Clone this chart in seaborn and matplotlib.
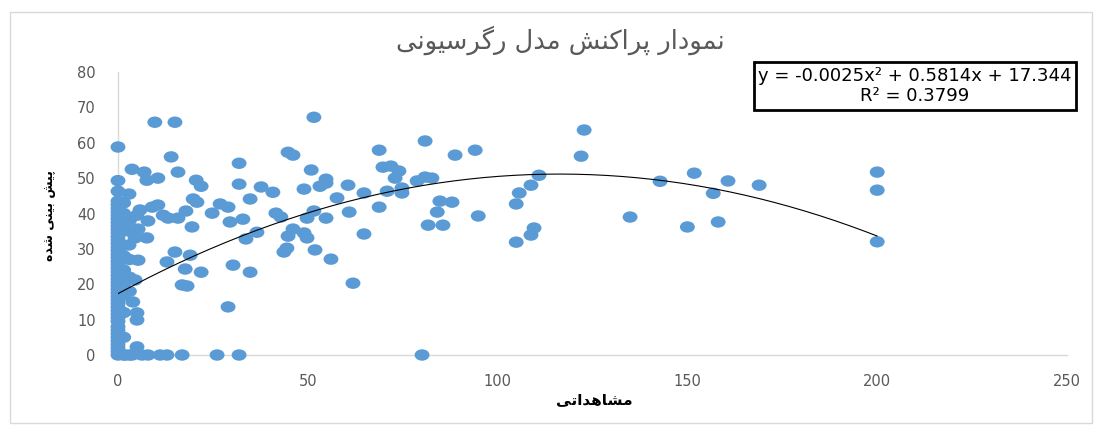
import numpy as np
import pandas as pd
import matplotlib
matplotlib.use("Agg")
import matplotlib.pyplot as plt
from matplotlib.patches import Rectangle
from matplotlib.markers import MarkerStyle
from matplotlib.transforms import Affine2D
import seaborn as sns

sns.set_style("white")
plt.rcParams['font.family'] = ['DejaVu Sans']

# observed values stacked at zero
zero_obs = [0] * 47 + [1.5] * 11 + [3] * 6
zero_pred = [0, 1, 2, 3, 4, 5, 6, 7, 8, 9.5, 10.5, 11.5, 12.5, 13.5, 14.5, 15.5,
             16.5, 17.5, 18.5, 19.5, 20.5, 21.5, 22.5, 23.5, 24.5, 25.5, 26.5, 27.5,
             28.5, 29.5, 30.5, 31.5, 32.5, 33.5, 34.5, 35.5, 36.5, 37.5, 38.5, 39.5,
             40.5, 41.5, 42.5, 43.5, 46.3, 49.3, 58.8,
             0, 5, 12, 17, 20, 24, 28, 31, 36, 40, 43,
             0, 18, 22, 27, 35, 38]

obs = [1.8, 3.7, 6.3, 7.9, 11.1, 12.9, 16.9, 26.1, 31.9, 80.1,
       2.9, 3.7, 6.9, 7.6, 10.5, 9.7, 15.0, 14.0, 15.8, 20.6, 21.9,
       19.8, 20.8, 26.9, 29.0, 5.8, 9.0, 10.5, 17.9, 5.0, 11.9, 13.2, 15.8, 7.9,
       24.8, 19.5, 29.5, 5.3, 7.6, 4.5, 2.9, 15.0, 19.0, 12.9, 5.3, 17.7, 21.9,
       30.3, 4.5, 16.9, 18.2, 3.9, 5.0, 5.0, 29.0, 5.0,
       31.9, 31.9, 37.7, 40.8, 34.8, 32.9, 33.7, 36.6, 34.8,
       44.8, 46.1, 51.6, 50.9, 49.0, 53.2, 54.8, 54.8, 60.6, 64.8, 57.7, 60.9,
       54.8, 51.6, 49.8, 41.6, 42.9, 46.1, 49.0, 44.8, 49.8, 44.5, 43.7, 51.9,
       56.1, 64.8, 61.9,
       68.8, 80.9, 88.8, 94.1, 69.8, 71.9, 74.0, 73.0, 78.8, 80.9, 82.7, 70.9,
       74.8, 74.8, 68.8, 84.8, 88.0, 84.1, 94.9, 81.7, 85.6, 104.9, 105.7,
       108.8, 110.9, 104.9, 108.8, 109.6,
       122.8, 122.0, 142.8, 151.8, 160.7, 168.9, 156.8, 134.9, 150.0, 158.1,
       200, 200, 200]
pred = [0, 0, 0, 0, 0, 0, 0, 0, 0, 0,
        45.5, 52.5, 51.7, 49.4, 50.0, 65.8, 65.8, 56.0, 51.7, 49.4, 47.7,
        44.1, 43.2, 42.7, 41.8, 41.0, 41.8, 42.4, 40.7, 39.5, 39.5, 38.7, 38.7, 37.9,
        40.1, 36.2, 37.6, 35.6, 33.1, 33.1, 31.1, 29.1, 28.2, 26.3, 26.8, 24.3, 23.4,
        25.4, 21.2, 19.8, 19.5, 15.0, 11.9, 9.9, 13.6, 2.3,
        54.2, 48.3, 47.5, 46.0, 44.1, 38.4, 32.8, 34.7, 23.4,
        57.3, 56.5, 67.2, 52.3, 46.9, 47.7, 49.7, 48.6, 48.0, 45.8, 44.4, 40.4,
        38.7, 40.7, 38.7, 40.1, 39.0, 35.6, 34.5, 33.6, 33.1, 30.2, 29.1, 29.7,
        27.1, 34.2, 20.3,
        57.9, 60.5, 56.5, 57.9, 53.1, 53.4, 52.0, 50.0, 49.2, 50.3, 50.0, 46.3,
        47.2, 45.8, 41.8, 43.5, 43.2, 40.4, 39.3, 36.7, 36.7, 42.7, 45.8,
        48.0, 50.8, 31.9, 33.9, 35.9,
        63.6, 56.2, 49.1, 51.4, 49.2, 48.0, 45.7, 39.0, 36.2, 37.6,
        51.7, 46.6, 32.0]

# trendline as printed on the chart
coef = [-0.0025, 0.5814, 17.344]
eq_text = "y = -0.0025x\u00b2 + 0.5814x + 17.344\nR\u00b2 = 0.3799"

# Persian labels written with presentation forms, then reversed for display
title_txt = ("\uFEE7\uFEE4\uFEEE\uFEA9\uFE8D\uFEAD \uFB58\uFEAE\uFE8D\uFB90\uFEE8\uFEB6 "
             "\uFEE3\uFEAA\uFEDD \uFEAD\uFB94\uFEAE\uFEB3\uFBFF\uFEEE\uFEE7\uFBFD")[::-1]
ylab_txt = "\uFB58\uFBFF\uFEB6 \uFE91\uFBFF\uFEE8\uFBFD \uFEB7\uFEAA\uFEE9"[::-1]
xlab_txt = "\uFEE3\uFEB8\uFE8E\uFEEB\uFEAA\uFE8D\uFE97\uFBFD"[::-1]

df = pd.DataFrame({'obs': zero_obs + obs, 'pred': zero_pred + pred})
xs = np.linspace(0, 200, 200)
trend = pd.DataFrame({'x': xs, 'y': np.polyval(coef, xs)})

fig = plt.figure(figsize=(10.96, 4.25), dpi=100)
ax = fig.add_axes([118 / 1096, 1 - 355 / 425, (1067 - 118) / 1096, (355 - 72) / 425])

# slightly flattened dots like the original
dot = MarkerStyle('o', transform=Affine2D().scale(1.2, 0.92))
sns.scatterplot(data=df, x='obs', y='pred', ax=ax, color='#5B9BD5', s=80,
                marker=dot, edgecolor='none', zorder=3)
for coll in ax.collections:
    coll.set_clip_on(False)
sns.lineplot(data=trend, x='x', y='y', ax=ax, color='black', linewidth=0.8, zorder=4)

ax.set_xlim(0, 250)
ax.set_ylim(0, 80)
ax.set_xticks([0, 50, 100, 150, 200, 250])
ax.set_yticks(range(0, 81, 10))
ax.tick_params(length=0, labelcolor='#595959', labelsize=10.5)
ax.tick_params(axis='x', pad=14)
ax.tick_params(axis='y', pad=16)
for lab in ax.get_xticklabels():
    lab.set_family(['Liberation Sans Narrow', 'DejaVu Sans'])
for sp in ['top', 'right']:
    ax.spines[sp].set_visible(False)
for sp in ['left', 'bottom']:
    ax.spines[sp].set_color('#D9D9D9')
    ax.spines[sp].set_linewidth(1)
    ax.spines[sp].set_zorder(0)
ax.set_xlabel('')
ax.set_ylabel('')

fig.text(560 / 1096, 1 - 40 / 425, title_txt, ha='center', va='center',
         fontsize=18.5, color='#595959')
fig.text(50 / 1096, 1 - 216 / 425, ylab_txt, ha='center', va='center',
         rotation=90, fontsize=9, fontweight='bold', color='black')
fig.text(594 / 1096, 1 - 400 / 425, xlab_txt, ha='center', va='center',
         fontsize=11, fontweight='bold', color='black')
fig.text(915 / 1096, 1 - 86 / 425, eq_text, ha='center', va='center',
         multialignment='center', fontsize=13, color='black',
         bbox=dict(boxstyle='square,pad=0.25', facecolor='white',
                   edgecolor='black', linewidth=2))

fig.patches.append(Rectangle((10 / 1096, 2 / 425), 1082 / 1096, 411 / 425,
                             transform=fig.transFigure, fill=False,
                             edgecolor='#D9D9D9', linewidth=1))

fig.savefig('out.png', dpi=100)
